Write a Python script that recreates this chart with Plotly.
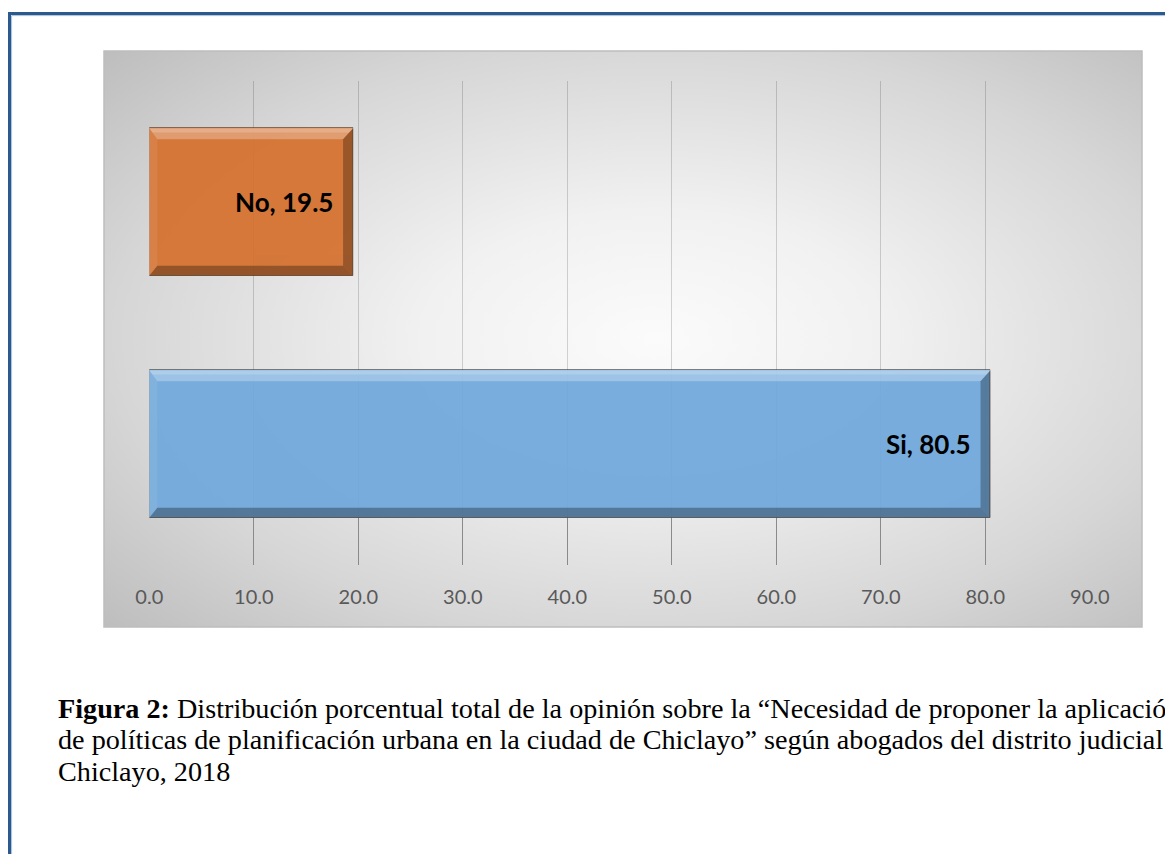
import base64
import plotly.graph_objects as go

# ---- data ----
categories = ["Si", "No"]
values = [80.5, 19.5]
bar_colors = ["#6FA8DC", "#D4702E"]
tick_vals = [0, 10, 20, 30, 40, 50, 60, 70, 80, 90]
caption_lines = [
    "<b>Figura 2:</b> Distribución porcentual total de la opinión sobre la “Necesidad de proponer la aplicación",
    "de políticas de planificación urbana en la ciudad de Chiclayo” según abogados del distrito judicial de",
    "Chiclayo, 2018",
]

W, H = 1173, 854
OX, OY = 8, 8   # page offset of the plot div
def px(x):
    return (x - OX) / W
def py(y):
    return 1 - (y - OY) / H

CA = (104, 51, 1142, 627)
PA = (149.3, 81, 1089.8, 565)
BAR_W = 0.61

fig = go.Figure()
fig.add_trace(go.Bar(
    y=categories, x=values, orientation="h",
    width=BAR_W,
    marker=dict(color=bar_colors, opacity=0.93,
                line=dict(color="rgba(60,40,20,0.55)", width=1)),
    hoverinfo="skip",
))

ppx = (PA[2] - PA[0]) / 90.0
ppy = (PA[3] - PA[1]) / 2.0
shapes = []
for i, v in enumerate(values):
    y0, y1 = i - BAR_W / 2, i + BAR_W / 2
    bx_l, bx_r = 8 / ppx, 10 / ppx
    by_t, by_b = 11 / ppy, 10 / ppy
    shapes.append(dict(type="path", xref="x", yref="y", layer="above",
        path=f"M 0,{y1} L {v},{y1} L {v-bx_r},{y1-by_t} L {bx_l},{y1-by_t} Z",
        fillcolor="rgba(255,255,255,0.28)", line=dict(width=0)))
    shapes.append(dict(type="path", xref="x", yref="y", layer="above",
        path=f"M 0,{y1} L {v},{y1} L {v-bx_r*0.4},{y1-by_t*0.4} L {bx_l*0.4},{y1-by_t*0.4} Z",
        fillcolor="rgba(255,255,255,0.18)", line=dict(width=0)))
    shapes.append(dict(type="path", xref="x", yref="y", layer="above",
        path=f"M 0,{y1} L {bx_l},{y1-by_t} L {bx_l},{y0+by_b} L 0,{y0} Z",
        fillcolor="rgba(255,255,255,0.08)", line=dict(width=0)))
    shapes.append(dict(type="path", xref="x", yref="y", layer="above",
        path=f"M {v},{y1} L {v-bx_r},{y1-by_t} L {v-bx_r},{y0+by_b} L {v},{y0} Z",
        fillcolor="rgba(0,0,0,0.28)", line=dict(width=0)))
    shapes.append(dict(type="path", xref="x", yref="y", layer="above",
        path=f"M 0,{y0} L {bx_l},{y0+by_b} L {v-bx_r},{y0+by_b} L {v},{y0} Z",
        fillcolor="rgba(0,0,0,0.30)", line=dict(width=0)))

shapes.append(dict(type="rect", xref="paper", yref="paper", layer="below",
    x0=px(CA[0]), x1=px(CA[2]), y0=py(CA[3]), y1=py(CA[1]),
    line=dict(color="#bdbdbd", width=1.5), fillcolor="rgba(0,0,0,0)"))
shapes.append(dict(type="rect", xref="paper", yref="paper", layer="above",
    x0=px(9.5), x1=1.1, y0=-0.1, y1=py(13.5),
    line=dict(color="#2C5A8C", width=3), fillcolor="rgba(0,0,0,0)"))
shapes.append(dict(type="rect", xref="paper", yref="paper", layer="above",
    x0=px(11.6), x1=1.1, y0=-0.1, y1=py(15.6),
    line=dict(color="#A9C0DB", width=1), fillcolor="rgba(0,0,0,0)"))

annotations = []
for i, (c, v) in enumerate(zip(categories, values)):
    annotations.append(dict(x=v, y=i, xref="x", yref="y", xanchor="right", yanchor="middle",
        xshift=-18, showarrow=False, text=f"<b>{c}, {v}</b>",
        font=dict(family="Lato", size=26, color="#000000")))

cap_y = [708, 739.5, 771]
for t, yy in zip(caption_lines, cap_y):
    annotations.append(dict(x=px(56), y=py(yy), xref="paper", yref="paper",
        xanchor="left", yanchor="middle", showarrow=False, text=t,
        font=dict(family="Liberation Serif", size=28.2, color="#000000")))

svg = (
    "<svg xmlns='http://www.w3.org/2000/svg' width='1038' height='576' viewBox='0 0 1038 576' preserveAspectRatio='none'>"
    "<defs><radialGradient id='g' cx='0.53' cy='0.5' r='0.74'>"
    "<stop offset='0' stop-color='#fbfbfb'/>"
    "<stop offset='0.3' stop-color='#f1f1f1'/>"
    "<stop offset='0.7' stop-color='#d6d6d6'/>"
    "<stop offset='1' stop-color='#bcbcbc'/>"
    "</radialGradient></defs>"
    "<rect x='0' y='0' width='1038' height='576' fill='url(#g)'/></svg>"
)
src = "data:image/svg+xml;base64," + base64.b64encode(svg.encode()).decode()

fig.update_layout(
    width=W, height=H,
    margin=dict(l=0, r=0, t=0, b=0, pad=0, autoexpand=False),
    paper_bgcolor="#ffffff",
    plot_bgcolor="rgba(0,0,0,0)",
    showlegend=False,
    bargap=0,
    shapes=shapes,
    annotations=annotations,
    images=[dict(source=src, xref="paper", yref="paper",
                 x=px(CA[0]), y=py(CA[1]), sizex=px(CA[2]) - px(CA[0]),
                 sizey=py(CA[1]) - py(CA[3]), xanchor="left", yanchor="top",
                 sizing="stretch", layer="below")],
    xaxis=dict(domain=[px(PA[0]), px(PA[2])], range=[0, 90], automargin=False,
               tickvals=tick_vals, ticktext=[f"{t:.1f}" for t in tick_vals],
               showgrid=True, gridcolor="rgba(0,0,0,0.16)", gridwidth=1,
               zeroline=False, showline=False,
               ticks="inside", ticklen=47, tickcolor="#8a8a8a", tickwidth=1,
               ticklabelstandoff=18,
               tickfont=dict(family="Lato", size=20, color="#595959"),
               fixedrange=True),
    yaxis=dict(domain=[py(PA[3]), py(PA[1])], range=[-0.5, 1.5], automargin=False,
               type="category", categoryorder="array", categoryarray=categories,
               showticklabels=False, showgrid=False, zeroline=False,
               showline=False, ticks="", fixedrange=True),
)

fig.write_html("out.html")
